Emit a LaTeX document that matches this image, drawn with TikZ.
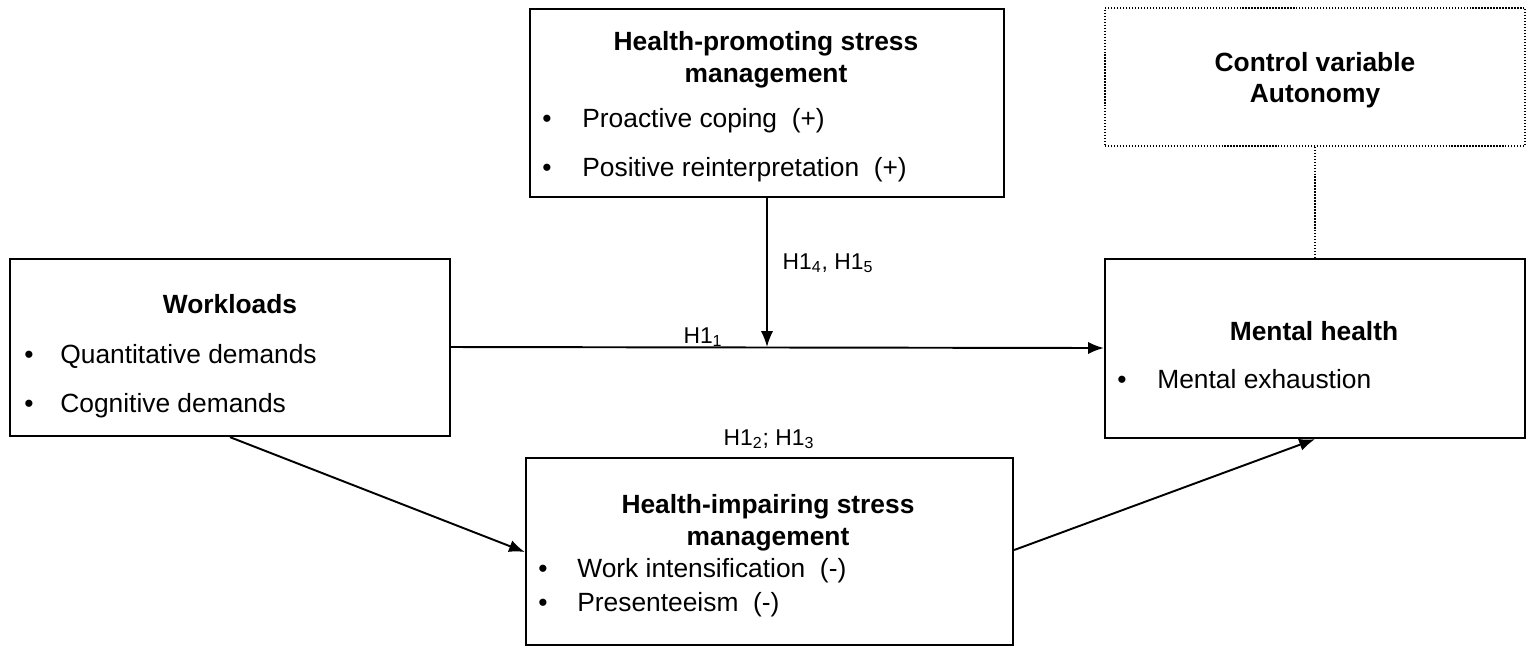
\documentclass[tikz,border=0pt]{standalone}
\usepackage{fontspec}
\setmainfont{Liberation Sans}
\usetikzlibrary{arrows.meta,fit}
\tikzstyle{block} = [draw, line width=1.3pt, inner sep=0pt]
\tikzstyle{ctrl} = [draw, densely dotted, line width=0.7pt, inner sep=0pt]
\tikzstyle{head} = [font=\fontsize{15}{18}\selectfont\bfseries, inner sep=0pt, anchor=base]
\tikzstyle{item} = [font=\fontsize{15}{18}\selectfont, inner sep=0pt, anchor=base west]
\tikzstyle{dot} = [font=\fontsize{15}{18}\selectfont, inner sep=0pt, anchor=base]
\tikzstyle{hyp} = [font=\fontsize{13}{15}\selectfont, inner sep=0pt, anchor=base]
\tikzstyle{link} = [-{Latex[length=9pt,width=7pt]}, line width=1.1pt]

\begin{document}
\begin{tikzpicture}[x=0.02cm,y=-0.02cm]
\useasboundingbox (0,0) rectangle (1533,654);
% boxes
\node[block, fit={(10,259) (450,436)}] (work) {};
\node[block, fit={(530,9) (1004,197)}] (promo) {};
\node[block, fit={(526,458) (1013,645)}] (impair) {};
\node[block, fit={(1105,259) (1525,438)}] (mental) {};
\node[ctrl, fit={(1105,8) (1525,146)}] (control) {};
% workloads
\node[head] (workhead) at (230,313) {Workloads};
\node[dot] (workd1) at (29,363) {\textbullet};
\node[item] (work1) at (60,363) {Quantitative demands};
\node[dot] (workd2) at (29,412) {\textbullet};
\node[item] (work2) at (60,412) {Cognitive demands};
% health-promoting
\node[head] (promohead1) at (766,50) {Health-promoting stress};
\node[head] (promohead2) at (766,82) {management};
\node[dot] (promod1) at (547,127) {\textbullet};
\node[item] (promo1) at (582,127) {Proactive coping~ (+)};
\node[dot] (promod2) at (547,176) {\textbullet};
\node[item] (promo2) at (582,176) {Positive reinterpretation~ (+)};
% health-impairing
\node[head] (impairhead1) at (768,513) {Health-impairing stress};
\node[head] (impairhead2) at (768,545) {management};
\node[dot] (impaird1) at (543,577) {\textbullet};
\node[item] (impair1) at (577,577) {Work intensification~ (-)};
\node[dot] (impaird2) at (543,611) {\textbullet};
\node[item] (impair2) at (577,611) {Presenteeism~ (-)};
% mental health
\node[head] (mentalhead) at (1314,340) {Mental health};
\node[dot] (mentald1) at (1122,388) {\textbullet};
\node[item] (mental1) at (1157,388) {Mental exhaustion};
% control variable
\node[head] (controlhead1) at (1315,71) {Control variable};
\node[head] (controlhead2) at (1315,102) {Autonomy};
% connectors
\coordinate (meet) at (767,347);
\draw [link] (work.east |- 0,347) -- (mental.west |- 0,348);
\draw [link] (promo.south -| meet) -- (meet);
\draw [link] (work.south -| 230,0) -- (impair.west |- 0,552);
\draw [link] (impair.east |- 0,550) -- (mental.south -| 1315,0);
\draw [densely dotted, line width=0.7pt] (control.south) -- (mental.north);
% hypotheses
\node[hyp] (h1) at (703,343) {H1\textsubscript{1}};
\node[hyp] (h45) at (828,269) {H1\textsubscript{4}, H1\textsubscript{5}};
\node[hyp] (h23) at (769,445) {H1\textsubscript{2}; H1\textsubscript{3}};
\end{tikzpicture}
\end{document}
